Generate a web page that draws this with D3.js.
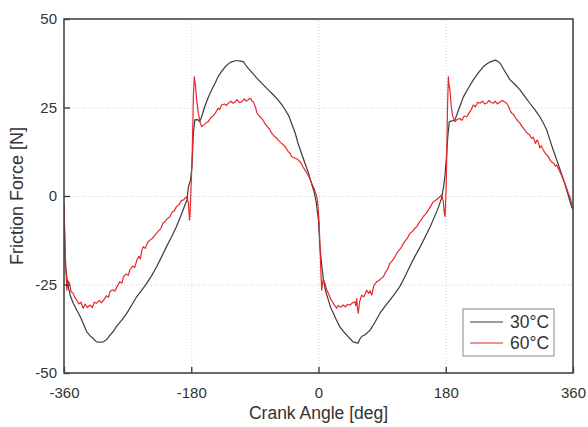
<!DOCTYPE html>
<html>
<head>
<meta charset="utf-8">
<script src="https://cdn.jsdelivr.net/npm/d3@7"></script>
<style>
  body { margin: 0; background: #fff; font-family: "Liberation Sans", Arial, sans-serif; }
  .grid line { stroke: #d0d0d0; stroke-dasharray: 1,2; }
  .grid path { display: none; }
</style>
</head>
<body>
<div id="chart"></div>
<script>
// tick values
var xTicks = [-360, -180, 0, 180, 360];
var yTicks = [-50, -25, 0, 25, 50];

// 30°C series [crank angle, friction force]
var series30 = [
  [-360, -2], [-359, -12], [-358.5, -19], [-356, -23], [-354, -25.6], [-351, -28.2], [-347, -30.3],
  [-342, -32.2], [-337, -34.1], [-332, -36.4], [-328, -38.3], [-323, -39.5], [-319, -40.2], [-314, -41.2],
  [-309, -41.3], [-304, -41.2], [-299, -40.4], [-295, -39.3], [-290, -38.2], [-286, -36.9], [-278, -35],
  [-271, -33.1], [-264, -30.7], [-257, -28.4], [-250, -26.6], [-243, -24.7], [-236, -22.5], [-229, -20],
  [-222, -17.2], [-215, -14.3], [-208, -11.6], [-201, -8.7], [-194, -5.2], [-189, -2.6], [-186, -1.1],
  [-184, 2.6], [-181, 4.5], [-179, 8.3], [-177, 17.7], [-175, 21.5], [-171, 21.6], [-168, 21],
  [-165, 22.6], [-161, 25.2], [-156, 27.8], [-151, 30], [-146, 32], [-142, 33.7], [-137, 35.2],
  [-132, 36.5], [-127, 37.4], [-123, 37.9], [-118, 38.2], [-114, 38.2], [-110, 38.1], [-106, 37.9],
  [-103, 37], [-99, 36], [-92, 34.4], [-85, 32.8], [-78, 31.4], [-71, 30], [-64, 28.6], [-57, 27.1],
  [-52, 25.8], [-47, 24.3], [-42, 22.6], [-38, 20.5], [-33, 17.8], [-29, 14.9], [-24, 12], [-19, 9.2],
  [-14, 6.4], [-10, 3.6], [-6, 1], [-3, -2.1], [0, -7], [2, -14.3], [4.5, -19.5], [7, -23.7],
  [10, -26.8], [14, -29.4], [17, -31.4], [21, -33.1], [25, -34.9], [30, -36.9], [35, -38.2],
  [40, -39.3], [45, -40.4], [49, -41.2], [53, -41.4], [56, -41.6], [58, -40.6], [61, -39.7],
  [66, -39.2], [73, -37.9], [80, -35.6], [87, -33.1], [94, -31.2], [101, -29.4], [108, -27.6],
  [115, -25.6], [122, -22.9], [129, -20], [136, -17.2], [144, -14.3], [151, -11.5], [158, -8.7],
  [164, -5.9], [170, -3], [174, -0.6], [177, 2.6], [179, 6], [181, 11.1], [183, 17], [185, 21],
  [189, 21.2], [193, 21.5], [199, 24.8], [205, 28], [212, 30.5], [219, 32.8], [226, 34.8],
  [233, 36.5], [238, 37.3], [243, 37.9], [246, 38.1], [250, 38.4], [253, 38.1], [257, 37.5],
  [264, 35.1], [271, 32.8], [278, 31.5], [285, 30], [292, 28.1], [299, 26.2], [306, 24.4],
  [313, 22.4], [318, 20.6], [323, 18.6], [327, 16], [332, 13], [337, 10.2], [342, 7.3],
  [347, 4.4], [351, 1.7], [355, -1], [358, -3], [360, -3.8]
];

// 60°C series [crank angle, friction force]
var series60 = [
  [-360, -4], [-359, -10], [-358.5, -14.3], [-357, -22], [-356, -26.6], [-354, -24], [-352, -24.7],
  [-350, -27], [-347, -27.5], [-345, -28.5], [-342, -29.4], [-339, -30.5], [-336, -30], [-333, -31.7],
  [-330, -30.5], [-327, -31.5], [-323, -30.8], [-320, -31.5], [-317, -30], [-314, -30.3], [-310, -29.5],
  [-307, -30.2], [-304, -29.4], [-300, -28.2], [-297, -28.6], [-295, -27], [-291, -26.5], [-288, -26.9],
  [-285, -25.6], [-281, -24.2], [-278, -24.6], [-276, -22.8], [-272, -22], [-269, -22.4], [-267, -20.9],
  [-263, -19.8], [-260, -20.2], [-257, -18.1], [-254, -17], [-252, -17.8], [-250, -15.5], [-248, -14.3],
  [-245, -14.8], [-242, -13.2], [-238, -12.4], [-235, -12], [-232, -11.2], [-229, -10.5], [-226, -9.8],
  [-223, -9.2], [-220, -7.7], [-217, -7.2], [-214, -6.4], [-210, -5.8], [-207, -4.5], [-204, -4.2],
  [-201, -3], [-197, -2.4], [-194, -1.3], [-191, -1.1], [-188, -0.5], [-186.5, -0.2], [-184, -2],
  [-182.5, -6.8], [-181.8, -5.8], [-180, 4], [-178.5, 13], [-177, 28], [-175.7, 33.7], [-174, 31],
  [-172.3, 27.1], [-170, 23.4], [-167, 20.5], [-165, 19.6], [-161, 20.3], [-158, 20.8], [-156, 21],
  [-152, 22.2], [-149, 22.6], [-146, 23.4], [-142, 24.8], [-140, 24.4], [-137, 25.7], [-133, 26],
  [-130, 25.6], [-127.6, 26.2], [-124, 26.8], [-121, 26.2], [-118, 26.6], [-115, 27.2], [-112, 26.4],
  [-108.6, 26.6], [-105, 27.4], [-102, 26.8], [-99, 27.3], [-96, 27.6], [-94, 26.8], [-92, 26.6],
  [-89, 25], [-87, 23.4], [-83, 22.5], [-79, 21.6], [-76, 20.5], [-72, 19.5], [-69, 18.8], [-66, 17.7],
  [-62, 16.8], [-59, 16.3], [-57, 15.8], [-53, 15], [-50, 14.5], [-47, 13.9], [-43, 12.6], [-40, 12],
  [-38, 11.1], [-34, 10.8], [-31, 10.5], [-28.6, 10.2], [-25, 9.4], [-22, 8.2], [-19, 7.3], [-15, 6],
  [-12, 4.8], [-9.6, 3.6], [-6, 2], [-4, 0.8], [-2.5, -0.2], [-1, -2.1], [1, -8], [2.1, -14.3],
  [3.5, -22], [4.5, -26.6], [6.5, -23.5], [9.2, -24.7], [11.5, -26.5], [13.9, -27.5], [17, -29],
  [21, -30.3], [23, -31], [25.7, -31.7], [28, -30.9], [31, -31.4], [35, -30.8], [38, -31.3], [41, -30.6],
  [44.6, -30.8], [48, -30.2], [51.6, -29.9], [53, -31], [54, -29], [55, -31.5], [56.3, -33.1], [58, -30],
  [61, -28], [64, -28.5], [68, -26.6], [71, -27.5], [73, -26.8], [75.3, -28], [78, -25.5], [82.3, -24.2],
  [86, -23.8], [89, -23.2], [91.7, -22.8], [95, -21.5], [98, -20.6], [101, -19], [104, -18.4],
  [107, -17.6], [110.6, -16.2], [114, -15.3], [117, -14.6], [120, -13.4], [123, -12.6], [126, -11.8],
  [129.4, -10.5], [133, -10], [136, -9.2], [139, -8.7], [142, -7.6], [145, -6.8], [148.3, -5.8],
  [152, -5], [155.3, -4], [159, -2.8], [162.4, -1.6], [166, -1.2], [170, -0.5], [174.3, 0.3],
  [176.5, -1.5], [178, -5], [179, -5.8], [180.5, 2], [181.4, 11.1], [182.5, 25], [183.7, 33.7],
  [184.5, 31.5], [186, 30], [187, 27], [188.4, 24.3], [190, 22.5], [193, 21], [196, 21.6], [200, 21.9],
  [203, 21.4], [206, 22.6], [209.6, 22.4], [213, 23.4], [216, 24.4], [219, 25.7], [222, 25.2],
  [225, 26.5], [228.5, 26.2], [232, 26.8], [235, 26], [238, 26.2], [241, 27], [244, 26.4], [247.3, 26.2],
  [250, 26.8], [253, 26], [256.8, 26.6], [260, 27], [263, 26.6], [266.2, 26.2], [269, 25.2], [271, 24.2],
  [273.3, 23.4], [276, 23], [279, 22], [282.6, 21], [285, 20.6], [288, 19.6], [292, 18.6], [295, 17.8],
  [298, 17.4], [301.6, 16.3], [304, 16.6], [307, 14.8], [309, 15.8], [311, 15.3], [313, 13.6],
  [315, 14.2], [318, 13], [321, 12], [324, 11.4], [327.5, 10.2], [330, 9.6], [333, 9.2], [335, 8.4],
  [337, 8.8], [340, 7.4], [343, 6.2], [346.3, 4.5], [349, 3.4], [351, 2.2], [353.4, 0.8], [356, -0.5],
  [358, -2], [360, -3.5]
];

var legendLabels = ['30°C', '60°C'];
var colors = ['#3b3b3b', '#e8282b'];

var margin = { top: 19, left: 64, right: 15, bottom: 54 };
var width = 588;
var height = 427;

var svg = d3.select('#chart')
  .append('svg')
  .attr('width', width)
  .attr('height', height)
  .append('g')
  .attr('transform', 'translate(' + margin.left + ',' + margin.top + ')');

width = width - margin.left - margin.right;
height = height - margin.top - margin.bottom;

var x = d3.scaleLinear().domain([-360, 360]).range([0, width]);
var y = d3.scaleLinear().domain([-50, 50]).range([height, 0]);

// plain hyphen for negative labels
var fmt = function(d) { return String(d); };

// gridlines
svg.append('g')
  .attr('class', 'grid')
  .attr('transform', 'translate(0,' + height + ')')
  .call(d3.axisBottom(x).tickValues(xTicks.slice(1, -1)).tickSize(-height).tickFormat(''));

svg.append('g')
  .attr('class', 'grid')
  .call(d3.axisLeft(y).tickValues(yTicks.slice(1, -1)).tickSize(-width).tickFormat(''));

var line = d3.line()
  .x(function(d) { return x(d[0]); })
  .y(function(d) { return y(d[1]); });

svg.append('defs').append('clipPath').attr('id', 'clip')
  .append('rect').attr('width', width).attr('height', height);

[series30, series60].forEach(function(s, i) {
  svg.append('path')
    .datum(s)
    .attr('clip-path', 'url(#clip)')
    .attr('fill', 'none')
    .attr('stroke', colors[i])
    .attr('stroke-width', 1.2)
    .attr('stroke-linejoin', 'round')
    .attr('d', line);
});

// axes with inward ticks
var xAxis = svg.append('g')
  .attr('transform', 'translate(0,' + height + ')')
  .call(d3.axisBottom(x).tickValues(xTicks).tickFormat(fmt).tickSizeInner(-6).tickSizeOuter(0).tickPadding(14));

var yAxis = svg.append('g')
  .call(d3.axisLeft(y).tickValues(yTicks).tickFormat(fmt).tickSizeInner(-6).tickSizeOuter(0).tickPadding(7));

[xAxis, yAxis].forEach(function(a) {
  a.select('.domain').remove();
  a.selectAll('line').attr('stroke', '#333').attr('stroke-width', 1.3);
  a.selectAll('text')
    .attr('fill', '#333')
    .style('font-family', '"Liberation Sans", Arial, sans-serif')
    .style('font-size', '15px');
});

// frame
svg.append('rect')
  .attr('width', width)
  .attr('height', height)
  .attr('fill', 'none')
  .attr('stroke', '#444')
  .attr('stroke-width', 1.6);

// axis titles
svg.append('text')
  .attr('x', width / 2)
  .attr('y', height + 46)
  .attr('text-anchor', 'middle')
  .attr('fill', '#333')
  .style('font-size', '17.5px')
  .text('Crank Angle [deg]');

svg.append('text')
  .attr('transform', 'rotate(-90)')
  .attr('x', -height / 2)
  .attr('y', -41)
  .attr('text-anchor', 'middle')
  .attr('fill', '#333')
  .style('font-size', '18px')
  .text('Friction Force [N]');

// legend
var legend = svg.append('g')
  .attr('transform', 'translate(' + (463 - margin.left) + ',' + (309 - margin.top) + ')');

legend.append('rect')
  .attr('width', 91)
  .attr('height', 47)
  .attr('fill', '#fff')
  .attr('stroke', '#888')
  .attr('stroke-width', 1);

legendLabels.forEach(function(lbl, i) {
  var ly = 13 + i * 21;
  legend.append('line')
    .attr('x1', 7).attr('x2', 40)
    .attr('y1', ly).attr('y2', ly)
    .attr('stroke', colors[i])
    .attr('stroke-width', 1.2);
  legend.append('text')
    .attr('x', 47)
    .attr('y', ly)
    .attr('dy', '0.35em')
    .attr('fill', '#333')
    .style('font-size', '17.5px')
    .text(lbl);
});
</script>
</body>
</html>
